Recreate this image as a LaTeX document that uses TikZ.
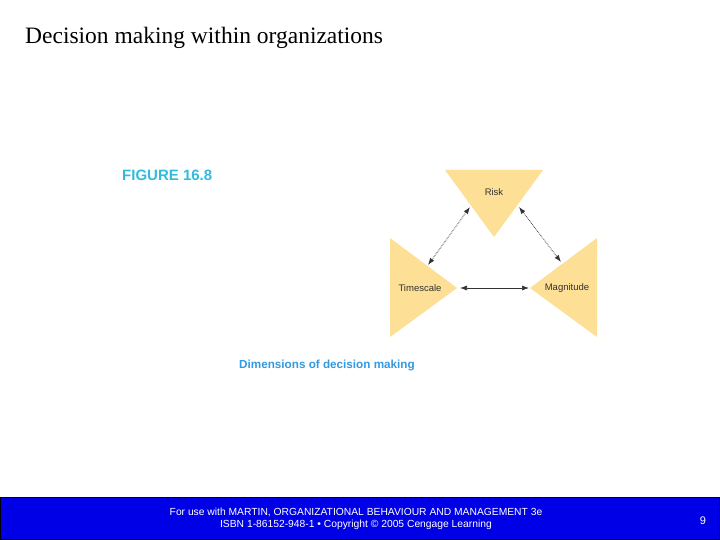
\documentclass[tikz,border=0pt]{standalone}
\usepackage{fontspec}
\setmainfont{Liberation Serif}
\newfontfamily\arialf{Liberation Sans}
\usetikzlibrary{arrows.meta}
\definecolor{tri}{HTML}{FDDF96}
\definecolor{footblue}{HTML}{0000E6}
\definecolor{figcyan}{HTML}{33BBDD}
\definecolor{capblue}{HTML}{3399E0}
\tikzset{
  tri/.style={fill=tri,draw=none},
  lbl/.style={font=\arialf\fontsize{9.5}{10}\selectfont,text=black!80,inner sep=0pt},
  link/.style={{Latex[length=7pt,width=5pt]}-{Latex[length=7pt,width=5pt]},line width=0.7pt,draw=black!80},
  dlink/.style={link,densely dotted,line width=0.8pt}
}
\begin{document}
\begin{tikzpicture}[x=1pt,y=-1pt]
\useasboundingbox (0,0) rectangle (720,540);
\fill[white] (0,0) rectangle (720,540);
\node[anchor=west,inner sep=0pt,font=\fontsize{23.5}{26}\selectfont] (title) at (25,38) {Decision making within organizations};
\node[anchor=west,inner sep=0pt,font=\arialf\bfseries\fontsize{15}{16}\selectfont,text=figcyan] (fig) at (122,175) {FIGURE 16.8};
\fill[tri] (445,170) -- (543,170) -- (494,237) -- cycle;
\fill[tri] (390,238) -- (390,337) -- (457,288) -- cycle;
\fill[tri] (597,238) -- (597,337) -- (530,288) -- cycle;
\node[lbl] (risk) at (494,192) {Risk};
\node[lbl] (time) at (420,288) {Timescale};
\node[lbl] (mag) at (567,288) {Magnitude};
\coordinate (r1) at (470,207);
\coordinate (t1) at (428,265);
\coordinate (r2) at (519,207);
\coordinate (m1) at (561,262);
\coordinate (t2) at (460,288);
\coordinate (m2) at (529,288);
\draw[dlink] (r1) -- (t1);
\draw[dlink] (r2) -- (m1);
\draw[link] (t2) -- (m2);
\node[anchor=west,inner sep=0pt,font=\arialf\bfseries\fontsize{11.7}{12}\selectfont,text=capblue] (cap) at (239,365) {Dimensions of decision making};
\draw[fill=footblue,draw=black,line width=1pt] (0.5,497.5) rectangle (719.5,539.5);
\node[align=center,text=white,font=\arialf\fontsize{10.3}{12.5}\selectfont,inner sep=0pt] (foot) at (356,519) {For use with MARTIN, ORGANIZATIONAL BEHAVIOUR AND MANAGEMENT 3e\\ISBN 1-86152-948-1 \textbullet\ Copyright \textcopyright\ 2005 Cengage Learning};
\node[text=white,font=\arialf\fontsize{11}{12}\selectfont,inner sep=0pt] (pg) at (703,521) {9};
\end{tikzpicture}
\end{document}
